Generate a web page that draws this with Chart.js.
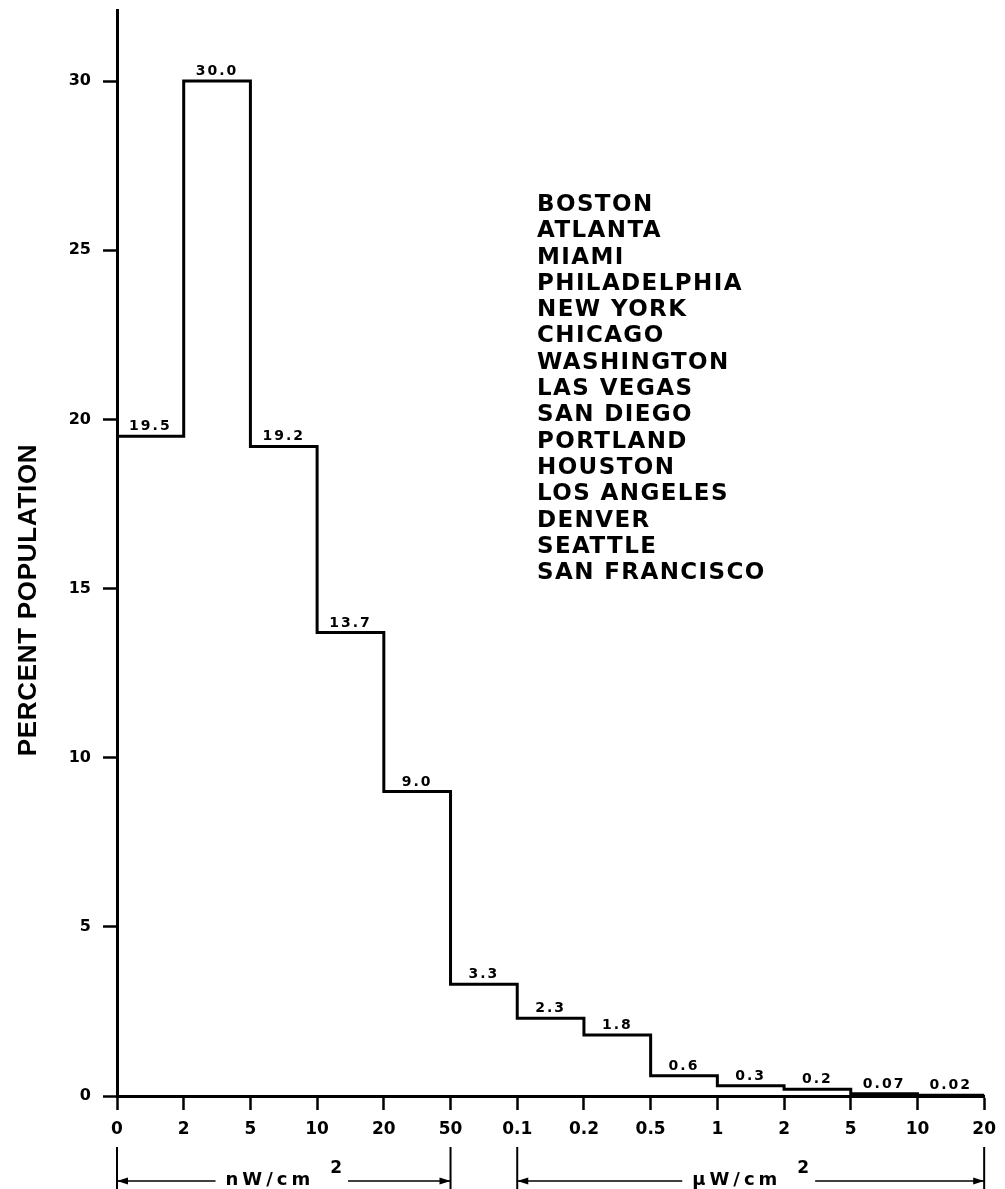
<!DOCTYPE html>
<html>
<head>
<meta charset="utf-8">
<title>Percent population by exposure level</title>
<script src="https://cdn.jsdelivr.net/npm/chart.js@4/dist/chart.umd.min.js"></script>
<style>
  html, body { margin: 0; padding: 0; background: #fff; }
  #wrap { position: relative; width: 1005px; height: 1189px; }
</style>
</head>
<body>
<div id="wrap"><canvas id="chart"></canvas></div>
<script>
// Step histogram: percent of population per exposure bin (15 US cities).

const TICK_LABELS = ["0", "2", "5", "10", "20", "50", "0.1", "0.2", "0.5", "1", "2", "5", "10", "20"];
const PERCENTS = [19.5, 30.0, 19.2, 13.7, 9.0, 3.3, 2.3, 1.8, 0.6, 0.3, 0.2, 0.07, 0.02];
const CITIES = [
  "BOSTON", "ATLANTA", "MIAMI", "PHILADELPHIA", "NEW YORK", "CHICAGO", "WASHINGTON",
  "LAS VEGAS", "SAN DIEGO", "PORTLAND", "HOUSTON", "LOS ANGELES", "DENVER", "SEATTLE",
  "SAN FRANCISCO",
];
// unit brackets span tick indices
const UNIT_GROUPS = [
  { text: "nW/cm", sup: "2", from: 0, to: 5 },
  { text: "\u00b5W/cm", sup: "2", from: 6, to: 13 },
];
const Y_TITLE = "PERCENT POPULATION";

const INK = "#000";

// one point per bin start, plus closing point at the last bin's right edge
const stepPoints = PERCENTS.map((v, i) => ({ x: i, y: v }));
stepPoints.push({ x: PERCENTS.length, y: PERCENTS[PERCENTS.length - 1] });

function fmtPercent(v) {
  return v >= 0.1 ? v.toFixed(1) : v.toFixed(2);
}

function arrowHead(ctx, x, y, dir) {
  ctx.beginPath();
  ctx.moveTo(x, y);
  ctx.lineTo(x - dir * 11, y - 3.5);
  ctx.lineTo(x - dir * 11, y + 3.5);
  ctx.closePath();
  ctx.fill();
}

const annotations = {
  id: "annotations",
  afterDraw(chart) {
    const { ctx, chartArea } = chart;
    const xs = chart.scales.x;
    const ys = chart.scales.y;
    ctx.save();
    ctx.fillStyle = INK;
    ctx.strokeStyle = INK;

    // value labels above each step
    ctx.font = "bold 14px 'DejaVu Sans'";
    ctx.letterSpacing = "2px";
    ctx.textAlign = "center";
    ctx.textBaseline = "alphabetic";
    PERCENTS.forEach((v, i) => {
      ctx.fillText(fmtPercent(v), xs.getPixelForValue(i + 0.5), ys.getPixelForValue(v) - 6);
    });

    // city list
    ctx.font = "bold 23px 'DejaVu Sans'";
    ctx.letterSpacing = "1.4px";
    ctx.textAlign = "left";
    ctx.textBaseline = "middle";
    CITIES.forEach((name, i) => ctx.fillText(name, 537, 205 + i * 26.3));

    // y axis title
    ctx.save();
    ctx.translate(29, 600);
    ctx.rotate(-Math.PI / 2);
    ctx.font = "bold 26px 'Liberation Sans'";
    ctx.letterSpacing = "0.7px";
    ctx.textAlign = "center";
    ctx.fillText(Y_TITLE, 0, 0);
    ctx.restore();

    // unit brackets under the x axis
    const base = chartArea.bottom;
    const lineY = base + 85;
    const mainFont = "bold 18px 'DejaVu Sans'";
    const supFont = "bold 17px 'DejaVu Sans'";
    const spacing = "4px";
    UNIT_GROUPS.forEach((g) => {
      const x0 = xs.getPixelForValue(g.from);
      const x1 = xs.getPixelForValue(g.to);
      ctx.lineWidth = 2;
      ctx.beginPath();
      ctx.moveTo(x0, base + 51);
      ctx.lineTo(x0, base + 95);
      ctx.moveTo(x1, base + 51);
      ctx.lineTo(x1, base + 95);
      ctx.stroke();

      ctx.font = mainFont;
      ctx.letterSpacing = spacing;
      const mainW = ctx.measureText(g.text).width;
      ctx.font = supFont;
      ctx.letterSpacing = "0px";
      const supW = ctx.measureText(g.sup).width;
      const gap = 16;
      const total = mainW + gap + supW;
      const start = (x0 + x1) / 2 - total / 2;

      ctx.textAlign = "left";
      ctx.textBaseline = "alphabetic";
      ctx.font = mainFont;
      ctx.letterSpacing = spacing;
      ctx.fillText(g.text, start, lineY + 4);
      ctx.font = supFont;
      ctx.letterSpacing = "0px";
      ctx.fillText(g.sup, start + mainW + gap, lineY - 8);

      ctx.lineWidth = 1.5;
      ctx.beginPath();
      ctx.moveTo(x0, lineY);
      ctx.lineTo(start - 10, lineY);
      ctx.moveTo(start + total + 6, lineY);
      ctx.lineTo(x1, lineY);
      ctx.stroke();
      arrowHead(ctx, x0, lineY, -1);
      arrowHead(ctx, x1, lineY, 1);
    });

    ctx.restore();
  },
};

const axisGrid = { drawOnChartArea: false, drawTicks: true, tickLength: 14, tickWidth: 2.5, tickColor: INK };
const axisBorder = { display: true, color: INK, width: 3 };

new Chart(document.getElementById("chart"), {
  type: "line",
  data: {
    datasets: [{
      data: stepPoints,
      borderColor: INK,
      borderWidth: 3,
      pointRadius: 0,
      stepped: true,
      fill: false,
      clip: false,
    }],
  },
  options: {
    responsive: true,
    maintainAspectRatio: false,
    animation: false,
    layout: { padding: { top: 10, right: 18, left: 0, bottom: 0 } },
    plugins: { legend: { display: false }, tooltip: { enabled: false } },
    scales: {
      x: {
        type: "linear",
        min: 0,
        max: TICK_LABELS.length - 1,
        ticks: {
          stepSize: 1,
          autoSkip: false,
          maxRotation: 0,
          color: INK,
          font: { family: "'DejaVu Sans'", size: 17, weight: "bold" },
          padding: 9,
          callback: (v) => TICK_LABELS[v] ?? "",
        },
        grid: axisGrid,
        border: axisBorder,
        afterFit: (s) => { s.height = 93; },
      },
      y: {
        min: 0,
        max: 32.1,
        ticks: {
          stepSize: 5,
          includeBounds: false,
          color: INK,
          font: { family: "'DejaVu Sans'", size: 16, weight: "bold" },
          padding: 12,
        },
        grid: axisGrid,
        border: axisBorder,
        afterFit: (s) => {
          s.width = 117;
          s.paddingTop = 0;
          s.paddingBottom = 0;
        },
      },
    },
  },
  plugins: [annotations],
});
</script>
</body>
</html>
